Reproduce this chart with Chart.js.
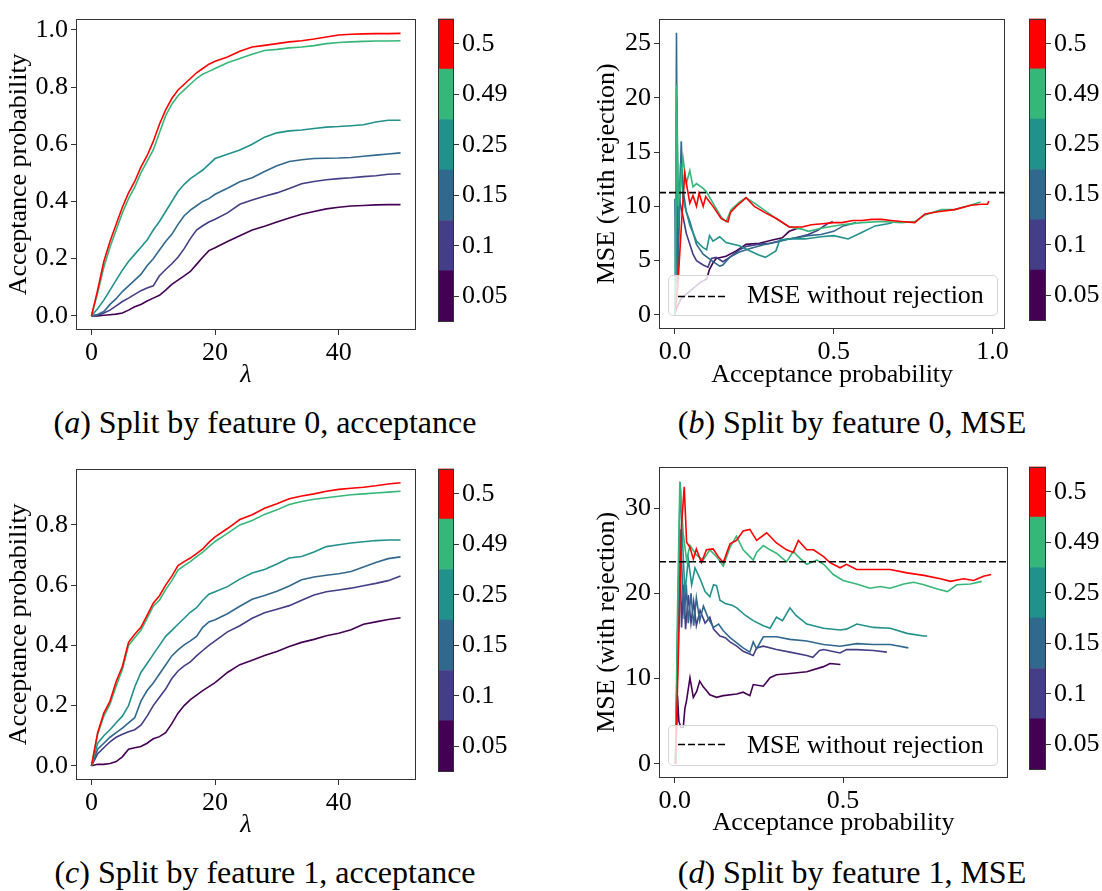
<!DOCTYPE html>
<html>
<head>
<meta charset="utf-8">
<script src="https://cdn.jsdelivr.net/npm/chart.js@4.4.1/dist/chart.umd.min.js"></script>
<style>
  body { margin:0; background:#fff; width:1102px; height:891px; position:relative; overflow:hidden; font-family:'Liberation Serif', serif; }
  canvas { position:absolute; }
  .caption { position:absolute; font-size:32px; white-space:nowrap; transform:translateX(-50%); line-height:36px; }
  .legend { position:absolute; background:rgba(255,255,255,0.8); border:1px solid #d6d6d6; border-radius:5px; box-sizing:border-box; font-size:26px; }
  .legend svg { position:absolute; left:8px; top:0; }
  .legend span { position:absolute; left:78px; white-space:nowrap; line-height:30px; }
</style>
</head>
<body>

<canvas id="plotA" width="420" height="392" style="left:0;top:0"></canvas>
<canvas id="barA" width="80" height="340" style="left:430px;top:0"></canvas>
<canvas id="plotB" width="422" height="392" style="left:590px;top:0"></canvas>
<canvas id="barB" width="81" height="339" style="left:1021px;top:0"></canvas>
<canvas id="plotC" width="420" height="392" style="left:0;top:450px"></canvas>
<canvas id="barC" width="80" height="340" style="left:430px;top:450px"></canvas>
<canvas id="plotD" width="422" height="392" style="left:590px;top:448px"></canvas>
<canvas id="barD" width="81" height="340" style="left:1021px;top:448px"></canvas>

<div class="legend" style="left:668px;top:275px;width:330px;height:41px">
  <svg width="60" height="41"><line x1="1" y1="20.5" x2="51" y2="20.5" stroke="#000" stroke-width="1.6" stroke-dasharray="7,3"/></svg>
  <span style="top:4px">MSE without rejection</span>
</div>
<div class="legend" style="left:668px;top:725px;width:330px;height:41px">
  <svg width="60" height="41"><line x1="1" y1="18.5" x2="51" y2="18.5" stroke="#000" stroke-width="1.6" stroke-dasharray="7,3"/></svg>
  <span style="top:4px">MSE without rejection</span>
</div>

<div class="caption" style="left:265px;top:404px">(<i>a</i>) Split by feature 0, acceptance</div>
<div class="caption" style="left:852px;top:404px">(<i>b</i>) Split by feature 0, MSE</div>
<div class="caption" style="left:265px;top:854px">(<i>c</i>) Split by feature 1, acceptance</div>
<div class="caption" style="left:852px;top:854px">(<i>d</i>) Split by feature 1, MSE</div>

<script>
// 颜色条分组（从下到上）
const cbLabels = ['0.05', '0.1', '0.15', '0.25', '0.49', '0.5'];
const seriesColors = ['#440154', '#433e85', '#31688e', '#21918c', '#35b779', '#ff0000'];

// λ 取值
const lambdaGrid = [0,1,2,3,4,5,6,7,8,9,10,11,12,13,14,15,16,17,18,19,20,22,24,26,28,30,32,34,36,38,40,42,44,46,48,50];

// (a) 特征0 接受概率
const accA_005 = [0,0,0.002,0.004,0.006,0.01,0.02,0.032,0.04,0.052,0.062,0.072,0.09,0.11,0.125,0.14,0.155,0.18,0.205,0.228,0.238,0.26,0.28,0.3,0.313,0.328,0.342,0.355,0.365,0.374,0.38,0.384,0.386,0.388,0.389,0.389];
const accA_010 = [0,0.002,0.01,0.02,0.035,0.05,0.062,0.075,0.088,0.097,0.105,0.14,0.162,0.182,0.205,0.235,0.27,0.3,0.315,0.328,0.338,0.36,0.39,0.405,0.418,0.43,0.445,0.462,0.47,0.476,0.48,0.483,0.487,0.49,0.495,0.497];
const accA_015 = [0,0.005,0.015,0.04,0.06,0.085,0.105,0.125,0.145,0.175,0.2,0.23,0.26,0.285,0.32,0.35,0.37,0.385,0.4,0.41,0.425,0.446,0.469,0.483,0.505,0.525,0.54,0.546,0.55,0.551,0.552,0.554,0.558,0.562,0.566,0.57];
const accA_025 = [0,0.025,0.055,0.09,0.125,0.16,0.19,0.215,0.24,0.265,0.3,0.33,0.365,0.4,0.435,0.46,0.48,0.495,0.51,0.53,0.55,0.565,0.58,0.6,0.625,0.64,0.647,0.65,0.655,0.66,0.662,0.665,0.668,0.678,0.684,0.684];
const accA_049 = [0,0.08,0.17,0.24,0.3,0.36,0.41,0.45,0.5,0.54,0.58,0.64,0.7,0.74,0.77,0.79,0.81,0.83,0.845,0.855,0.865,0.885,0.9,0.915,0.928,0.932,0.937,0.94,0.945,0.952,0.956,0.958,0.96,0.961,0.961,0.962];
const accA_050 = [0,0.09,0.19,0.26,0.32,0.38,0.43,0.47,0.52,0.56,0.61,0.67,0.72,0.76,0.79,0.81,0.83,0.85,0.865,0.88,0.89,0.905,0.925,0.94,0.946,0.952,0.958,0.962,0.968,0.975,0.982,0.985,0.986,0.987,0.987,0.988];

// (c) 特征1 接受概率
const accC_005 = [0,0.005,0.005,0.008,0.014,0.03,0.055,0.06,0.064,0.075,0.09,0.097,0.11,0.14,0.175,0.2,0.22,0.235,0.25,0.263,0.276,0.31,0.336,0.351,0.366,0.38,0.396,0.41,0.42,0.432,0.44,0.452,0.47,0.478,0.486,0.492];
const accC_010 = [0,0.04,0.06,0.08,0.095,0.105,0.113,0.12,0.135,0.165,0.2,0.228,0.255,0.29,0.315,0.332,0.345,0.365,0.383,0.4,0.415,0.445,0.465,0.49,0.508,0.52,0.532,0.55,0.567,0.578,0.584,0.59,0.598,0.606,0.615,0.63];
const accC_015 = [0,0.055,0.075,0.095,0.11,0.125,0.143,0.16,0.215,0.25,0.275,0.305,0.335,0.365,0.385,0.402,0.415,0.43,0.46,0.478,0.485,0.505,0.53,0.553,0.566,0.58,0.597,0.618,0.627,0.633,0.638,0.645,0.66,0.675,0.688,0.694];
const accC_025 = [0,0.075,0.1,0.12,0.143,0.165,0.2,0.262,0.31,0.34,0.37,0.4,0.43,0.45,0.47,0.49,0.51,0.525,0.55,0.57,0.578,0.595,0.62,0.64,0.652,0.67,0.69,0.695,0.71,0.728,0.734,0.74,0.744,0.748,0.75,0.75];
const accC_049 = [0,0.105,0.165,0.205,0.265,0.32,0.4,0.425,0.45,0.49,0.53,0.55,0.585,0.615,0.65,0.665,0.678,0.695,0.71,0.728,0.745,0.772,0.8,0.815,0.835,0.85,0.868,0.878,0.885,0.89,0.895,0.9,0.903,0.906,0.909,0.912];
const accC_050 = [0,0.11,0.175,0.215,0.28,0.33,0.41,0.437,0.46,0.5,0.54,0.565,0.6,0.63,0.665,0.678,0.69,0.705,0.72,0.742,0.76,0.788,0.818,0.834,0.855,0.87,0.887,0.896,0.903,0.912,0.918,0.922,0.925,0.93,0.936,0.94];

// (b) 特征0 MSE，[接受概率, MSE]
const mseB_005 = [[0,0],[0.005,0.6],[0.02,1.5],[0.04,2.0],[0.06,2.5],[0.08,3.0],[0.1,3.3],[0.109,4.2],[0.12,4.8],[0.13,5.2],[0.161,5.4],[0.193,5.9],[0.224,6.5],[0.266,6.6],[0.307,6.9],[0.338,7.1],[0.36,7.7],[0.389,8.0]];
const mseB_010 = [[0.001,0],[0.008,12.5],[0.015,10.5],[0.026,9.0],[0.036,7.5],[0.047,6.5],[0.057,5.6],[0.068,5.0],[0.089,4.6],[0.104,4.4],[0.115,5.2],[0.13,5.3],[0.151,4.9],[0.172,5.3],[0.203,6.0],[0.224,6.3],[0.26,6.5],[0.3,6.6],[0.34,6.9],[0.38,7.1],[0.42,7.4],[0.45,7.8],[0.48,8.4],[0.497,8.6]];
const mseB_015 = [[0,10.7],[0.002,3],[0.005,26.0],[0.009,3],[0.015,10],[0.02,16.0],[0.026,11.5],[0.036,9.5],[0.047,8.6],[0.068,6.5],[0.089,5.6],[0.12,4.9],[0.141,4.5],[0.151,4.6],[0.172,5.3],[0.203,5.8],[0.234,6.1],[0.285,6.5],[0.318,6.7],[0.36,7.0],[0.42,7.3],[0.46,7.4],[0.5,7.7],[0.53,8.2],[0.57,8.5]];
const mseB_025 = [[0.001,0],[0.006,20],[0.012,8],[0.018,14],[0.026,10.6],[0.036,9.5],[0.047,8.27],[0.068,6.8],[0.078,6.5],[0.089,6.2],[0.1,6.0],[0.109,7.3],[0.12,6.8],[0.141,7.2],[0.161,6.66],[0.203,6.37],[0.245,5.78],[0.266,5.49],[0.285,5.3],[0.318,5.9],[0.33,6.9],[0.36,7.0],[0.41,7.0],[0.46,7.2],[0.5,7.3],[0.545,7.0],[0.588,7.6],[0.63,8.2],[0.67,8.4],[0.684,8.5]];
const mseB_049 = [[0.001,0],[0.005,21.2],[0.01,10],[0.018,12],[0.026,14.4],[0.036,12.1],[0.047,13.3],[0.057,11.8],[0.068,12.1],[0.089,11.65],[0.099,11.36],[0.12,10.3],[0.146,9.0],[0.161,8.6],[0.177,9.7],[0.203,10.4],[0.224,10.8],[0.255,10.2],[0.318,8.9],[0.36,8.1],[0.4,7.9],[0.42,7.7],[0.464,8.0],[0.526,8.3],[0.588,8.5],[0.65,8.6],[0.713,8.5],[0.755,8.6],[0.787,9.2],[0.839,9.7],[0.88,9.7],[0.93,10.1],[0.962,10.4]];
const mseB_050 = [[0.002,0.5],[0.01,3],[0.02,8],[0.031,13.0],[0.047,10.3],[0.057,11.0],[0.068,10.0],[0.076,11.2],[0.089,10.0],[0.097,10.9],[0.104,10.6],[0.12,10.0],[0.146,8.86],[0.167,8.57],[0.175,9.45],[0.193,10.0],[0.213,10.5],[0.224,10.8],[0.25,10.0],[0.285,9.4],[0.318,8.9],[0.36,8.1],[0.4,8.1],[0.43,8.3],[0.464,8.4],[0.5,8.5],[0.526,8.5],[0.56,8.7],[0.588,8.7],[0.62,8.8],[0.651,8.8],[0.68,8.7],[0.713,8.6],[0.755,8.5],[0.787,9.3],[0.828,9.5],[0.88,9.7],[0.932,10.1],[0.965,10.2],[0.984,10.2],[0.988,10.5]];
const mseNoRejectB = 11.27;

// (d) 特征1 MSE
const mseD_005 = [[0.002,0],[0.008,8],[0.012,5],[0.018,4.3],[0.025,4.27],[0.03,6.5],[0.035,7.45],[0.045,10.1],[0.055,7.8],[0.065,8.5],[0.074,9.7],[0.085,9.0],[0.094,8.6],[0.104,8.1],[0.124,7.8],[0.144,8.0],[0.184,8.2],[0.203,8.4],[0.223,8.0],[0.233,9.3],[0.263,9.1],[0.283,10.1],[0.302,10.45],[0.342,10.6],[0.392,10.8],[0.442,11.4],[0.461,11.76],[0.492,11.65]];
const mseD_010 = [[0.002,0],[0.01,15],[0.015,26],[0.02,16],[0.026,21],[0.032,15.8],[0.04,19.8],[0.048,16.5],[0.056,19.0],[0.064,16.2],[0.075,18.0],[0.09,16.5],[0.104,17.2],[0.115,15.8],[0.134,15.0],[0.15,14.8],[0.164,14.3],[0.184,13.8],[0.203,13.2],[0.233,12.7],[0.243,13.6],[0.263,13.8],[0.302,13.4],[0.342,13.1],[0.392,12.7],[0.41,12.5],[0.43,13.3],[0.442,13.4],[0.491,13.0],[0.51,13.4],[0.541,13.4],[0.59,13.3],[0.63,13.1]];
const mseD_015 = [[0.002,0],[0.01,18],[0.016,27.5],[0.022,22],[0.028,17],[0.034,21],[0.04,16.5],[0.048,20],[0.056,16.2],[0.064,19.5],[0.074,16.8],[0.085,18.5],[0.1,17.0],[0.115,16.0],[0.13,16.4],[0.144,15.6],[0.164,14.8],[0.184,14.2],[0.203,13.6],[0.223,13.1],[0.233,14.3],[0.243,13.5],[0.263,14.9],[0.302,14.9],[0.342,14.6],[0.392,14.4],[0.442,14.0],[0.491,13.8],[0.541,14.1],[0.59,14.0],[0.64,14.0],[0.694,13.6]];
const mseD_025 = [[0.002,0],[0.01,20],[0.016,33],[0.022,27],[0.03,20],[0.04,24],[0.05,21],[0.06,23],[0.075,21.7],[0.09,20.2],[0.104,19.6],[0.115,21.0],[0.124,20.9],[0.134,19.2],[0.15,18.8],[0.17,18.6],[0.184,18.3],[0.21,17.4],[0.233,16.8],[0.263,16.2],[0.283,15.9],[0.302,17.2],[0.32,16.8],[0.342,18.3],[0.36,17.4],[0.392,16.4],[0.442,15.9],[0.491,15.7],[0.51,15.8],[0.541,16.4],[0.59,16.0],[0.64,15.9],[0.69,15.3],[0.739,15.0],[0.75,15.0]];
const mseD_049 = [[0.002,0],[0.008,18],[0.015,33.1],[0.025,27],[0.035,23.9],[0.045,25.6],[0.064,24.5],[0.084,23.9],[0.104,25.1],[0.124,24.3],[0.144,23.2],[0.164,25.4],[0.183,26.7],[0.203,25.1],[0.223,24.3],[0.233,23.9],[0.243,24.8],[0.263,25.6],[0.283,25.1],[0.302,24.7],[0.332,23.7],[0.352,24.9],[0.372,24.1],[0.392,23.4],[0.422,23.9],[0.442,23.4],[0.471,22.2],[0.5,21.5],[0.54,21.1],[0.58,20.6],[0.61,20.8],[0.64,20.6],[0.68,21.1],[0.71,21.3],[0.74,21.0],[0.78,20.5],[0.81,20.2],[0.838,21.0],[0.878,21.1],[0.912,21.4]];
const mseD_050 = [[0.002,0],[0.012,15],[0.02,28],[0.028,32.5],[0.035,26],[0.045,25.4],[0.055,24.0],[0.064,25.2],[0.079,23.6],[0.094,25.1],[0.114,25.2],[0.129,24.3],[0.144,23.6],[0.164,25.8],[0.183,26.2],[0.203,27.3],[0.223,27.5],[0.243,26.2],[0.273,27.1],[0.302,25.9],[0.332,25.1],[0.352,24.8],[0.367,26.2],[0.392,25.1],[0.412,25.1],[0.442,24.3],[0.461,23.6],[0.491,23.0],[0.51,23.4],[0.54,22.8],[0.59,22.8],[0.64,22.8],[0.69,22.4],[0.74,22.1],[0.789,21.7],[0.819,21.4],[0.858,21.7],[0.888,21.5],[0.917,22.0],[0.94,22.2]];
const mseNoRejectD = 23.7;

// 刻度
const xTicksLambda = [0, 20, 40];
const yTicksAccA = [0, 0.2, 0.4, 0.6, 0.8, 1.0];
const yTicksAccC = [0, 0.2, 0.4, 0.6, 0.8];
const xTicksProbB = [0, 0.5, 1.0];
const xTicksProbD = [0, 0.5];
const yTicksMseB = [0, 5, 10, 15, 20, 25];
const yTicksMseD = [0, 10, 20, 30];

const serif = "'Liberation Serif', serif";
const baseFont = { family: serif, size: 26, style: 'normal' };
Chart.defaults.font.family = serif;
Chart.defaults.font.size = 26;
Chart.defaults.color = '#000';

// 画坐标框
const framePlugin = {
    id: 'frame',
    afterDatasetsDraw(chart) {
        const a = chart.chartArea;
        const ctx = chart.ctx;
        ctx.save();
        ctx.strokeStyle = '#333';
        ctx.lineWidth = 1;
        ctx.strokeRect(Math.round(a.left) + 0.5, Math.round(a.top) + 0.5,
            Math.round(a.right - a.left) - 1, Math.round(a.bottom - a.top) - 1);
        ctx.restore();
    }
};

function accDatasets(rows) {
    return rows.map((arr, i) => ({
        data: lambdaGrid.map((l, k) => ({ x: l, y: arr[k] })),
        borderColor: seriesColors[i],
        order: 6 - i
    }));
}

function mseDatasets(rows, ref, xMin, xMax) {
    const ds = rows.map((arr, i) => ({
        data: arr.map(p => ({ x: p[0], y: p[1] })),
        borderColor: seriesColors[i],
        order: 6 - i
    }));
    ds.push({
        data: [{ x: xMin, y: ref }, { x: xMax, y: ref }],
        borderColor: '#000',
        borderDash: [7, 3],
        order: -1
    });
    return ds;
}

function makePlot(id, c) {
    new Chart(document.getElementById(id), {
        type: 'line',
        data: { datasets: c.datasets },
        options: {
            animation: false,
            responsive: false,
            devicePixelRatio: 1,
            layout: { padding: c.padding },
            plugins: { legend: { display: false }, tooltip: { enabled: false } },
            elements: { point: { radius: 0 }, line: { borderWidth: 1.6, tension: 0 } },
            scales: {
                x: {
                    type: 'linear', min: c.xMin, max: c.xMax,
                    afterBuildTicks: s => { s.ticks = c.xTicks.map(v => ({ value: v })); },
                    afterFit: s => { s.height = c.xAxisH; },
                    ticks: { callback: c.xFmt, padding: 3, maxRotation: 0, autoSkip: false, font: baseFont },
                    grid: { drawOnChartArea: false, tickLength: 5, color: '#333' },
                    border: { display: false },
                    title: { display: true, text: c.xTitle, padding: { top: 0, bottom: 1 },
                             font: { family: serif, size: 26, style: c.xItalic ? 'italic' : 'normal' } }
                },
                y: {
                    type: 'linear', min: c.yMin, max: c.yMax,
                    afterBuildTicks: s => { s.ticks = c.yTicks.map(v => ({ value: v })); },
                    afterFit: s => { s.width = c.yAxisW; },
                    ticks: { callback: c.yFmt, padding: 3, autoSkip: false, font: baseFont },
                    grid: { drawOnChartArea: false, tickLength: 5, color: '#333' },
                    border: { display: false },
                    title: { display: true, text: c.yTitle, padding: { top: c.yTitlePad, bottom: 0 }, font: baseFont }
                }
            }
        },
        plugins: [framePlugin]
    });
}

function makeColorbar(id, padding, axisW) {
    new Chart(document.getElementById(id), {
        type: 'bar',
        data: {
            labels: [''],
            datasets: cbLabels.map((lab, i) => ({
                label: lab,
                data: [1],
                backgroundColor: seriesColors[i],
                borderWidth: 0,
                barPercentage: 1,
                categoryPercentage: 1
            }))
        },
        options: {
            animation: false,
            responsive: false,
            devicePixelRatio: 1,
            layout: { padding: padding },
            plugins: { legend: { display: false }, tooltip: { enabled: false } },
            scales: {
                x: { stacked: true, display: false },
                y: {
                    stacked: true, position: 'right', min: 0, max: cbLabels.length,
                    afterBuildTicks: s => { s.ticks = cbLabels.map((_, i) => ({ value: i + 0.5 })); },
                    afterFit: s => { s.width = axisW; },
                    ticks: { callback: (v, i) => cbLabels[i], padding: 3, autoSkip: false, font: baseFont },
                    grid: { drawOnChartArea: false, tickLength: 5, color: '#333' },
                    border: { display: false }
                }
            }
        },
        plugins: [framePlugin]
    });
}

const fmt1 = v => v.toFixed(1);
const fmt0 = v => String(v);

function drawAll() {
    // (a)
    makePlot('plotA', {
        datasets: accDatasets([accA_005, accA_010, accA_015, accA_025, accA_049, accA_050]),
        padding: { top: 8, right: 4, left: 0, bottom: 0 },
        xMin: -2.5, xMax: 52.5, yMin: -0.0495, yMax: 1.0395,
        xTicks: xTicksLambda, yTicks: yTicksAccA, xFmt: fmt0, yFmt: fmt1,
        xAxisH: 62, yAxisW: 76, xTitle: 'λ', xItalic: true,
        yTitle: 'Acceptance probability', yTitlePad: 4
    });
    makeColorbar('barA', { top: 9, bottom: 10, left: 8, right: 0 }, 56);

    // (b)
    makePlot('plotB', {
        datasets: mseDatasets([mseB_005, mseB_010, mseB_015, mseB_025, mseB_049, mseB_050], mseNoRejectB, -0.05, 1.04),
        padding: { top: 4, right: 4, left: 0, bottom: 0 },
        xMin: -0.05, xMax: 1.04, yMin: -1.3, yMax: 27.3,
        xTicks: xTicksProbB, yTicks: yTicksMseB, xFmt: fmt1, yFmt: fmt0,
        xAxisH: 63, yAxisW: 69, xTitle: 'Acceptance probability', xItalic: false,
        yTitle: 'MSE (with rejection)', yTitlePad: 2
    });
    makeColorbar('barB', { top: 4, bottom: 10, left: 8, right: 0 }, 56);

    // (c)
    makePlot('plotC', {
        datasets: accDatasets([accC_005, accC_010, accC_015, accC_025, accC_049, accC_050]),
        padding: { top: 8, right: 4, left: 0, bottom: 0 },
        xMin: -2.5, xMax: 52.5, yMin: -0.047, yMax: 0.987,
        xTicks: xTicksLambda, yTicks: yTicksAccC, xFmt: fmt0, yFmt: fmt1,
        xAxisH: 62, yAxisW: 76, xTitle: 'λ', xItalic: true,
        yTitle: 'Acceptance probability', yTitlePad: 4
    });
    makeColorbar('barC', { top: 8, bottom: 10, left: 8, right: 0 }, 56);

    // (d)
    makePlot('plotD', {
        datasets: mseDatasets([mseD_005, mseD_010, mseD_015, mseD_025, mseD_049, mseD_050], mseNoRejectD, -0.047, 0.99),
        padding: { top: 5, right: 4, left: 0, bottom: 0 },
        xMin: -0.047, xMax: 0.99, yMin: -1.66, yMax: 34.86,
        xTicks: xTicksProbD, yTicks: yTicksMseD, xFmt: fmt1, yFmt: fmt0,
        xAxisH: 62, yAxisW: 69, xTitle: 'Acceptance probability', xItalic: false,
        yTitle: 'MSE (with rejection)', yTitlePad: 2
    });
    makeColorbar('barD', { top: 5, bottom: 10, left: 8, right: 0 }, 56);
}

// 先确保字体可用再画
if (document.fonts && document.fonts.load) {
    Promise.all([
        document.fonts.load("26px 'Liberation Serif'"),
        document.fonts.load("italic 26px 'Liberation Serif'")
    ]).then(drawAll, drawAll);
} else {
    drawAll();
}
</script>
</body>
</html>
